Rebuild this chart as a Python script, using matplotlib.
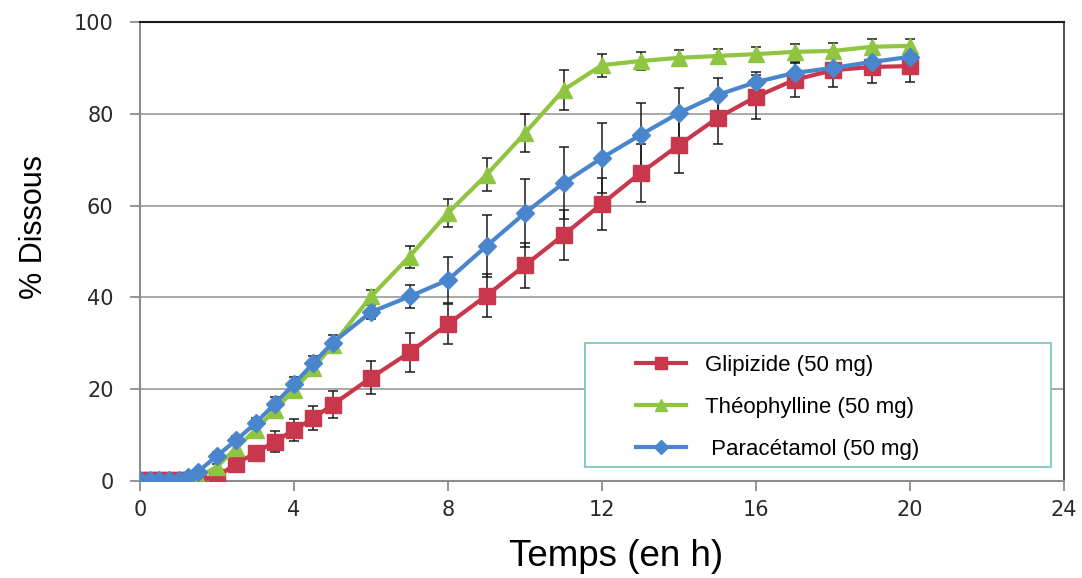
import matplotlib
matplotlib.use("Agg")
import matplotlib.pyplot as plt
from matplotlib.patches import Rectangle

time_h = [0, 0.25, 0.5, 0.75, 1, 1.25, 1.5, 2, 2.5, 3, 3.5, 4, 4.5, 5,
          6, 7, 8, 9, 10, 11, 12, 13, 14, 15, 16, 17, 18, 19, 20]

glipizide = [0.3, 0.3, 0.3, 0.3, 0.3, 0.3, 0.4, 0.9, 3.8, 6.1, 8.6, 11.1, 13.7, 16.6,
             22.5, 28.0, 34.2, 40.4, 47.0, 53.6, 60.4, 67.1, 73.2, 79.1, 83.7, 87.4, 89.5, 90.2, 90.4]
glipizide_err = [0.2, 0.2, 0.2, 0.2, 0.2, 0.2, 0.2, 0.5, 1.0, 1.5, 2.2, 2.3, 2.6, 2.9,
                 3.6, 4.2, 4.4, 4.7, 4.9, 5.4, 5.7, 6.3, 6.1, 5.7, 4.8, 3.7, 3.7, 3.5, 3.5]

theophylline = [0.0, 0.0, 0.5, 0.5, 0.3, 0.3, 0.8, 3.1, 7.2, 11.1, 15.5, 19.8, 24.6, 29.6,
                40.2, 48.9, 58.4, 66.7, 75.8, 85.2, 90.6, 91.5, 92.2, 92.6, 93.0, 93.5, 93.7, 94.6, 94.8]
theophylline_err = [0.2, 0.2, 0.3, 0.3, 0.3, 0.3, 0.3, 0.5, 1.0, 1.0, 1.0, 1.0, 1.0, 1.0,
                    1.5, 2.4, 3.1, 3.6, 4.2, 4.4, 2.5, 1.9, 1.8, 1.5, 1.5, 1.6, 1.8, 1.7, 1.6]

paracetamol = [0.3, 0.3, 0.3, 0.3, 0.3, 0.8, 2.0, 5.5, 8.9, 12.6, 16.8, 21.1, 25.7, 30.1,
               36.8, 40.2, 43.8, 51.2, 58.4, 64.9, 70.4, 75.4, 80.2, 84.1, 86.9, 88.9, 90.0, 91.3, 92.4]
paracetamol_err = [0.2, 0.2, 0.2, 0.2, 0.2, 0.3, 0.5, 0.8, 1.0, 1.2, 1.4, 1.5, 1.5, 1.6,
                   1.5, 2.5, 5.0, 6.8, 7.4, 7.9, 7.7, 7.0, 5.4, 3.7, 2.2, 2.4, 2.2, 1.5, 1.2]

labels = ["Glipizide (50 mg)", "Théophylline (50 mg)", " Paracétamol (50 mg)"]
colors = ["#C9374C", "#8FC541", "#4A86CE"]
markers = ["s", "^", "D"]
msizes = [11.5, 11, 9]

x_ticks = [0, 4, 8, 12, 16, 20, 24]
y_ticks = [0, 20, 40, 60, 80, 100]

fig = plt.figure(figsize=(10.82, 5.78), dpi=100)
ax = fig.add_axes([140/1082, 1 - 481/578, (1064-140)/1082, (481-22)/578])

series = [(glipizide, glipizide_err), (theophylline, theophylline_err), (paracetamol, paracetamol_err)]
handles = []
for (vals, errs), lab, c, m, ms in zip(series, labels, colors, markers, msizes):
    ax.errorbar(time_h, vals, yerr=errs, fmt="none", ecolor="#1a1a1a",
                elinewidth=1.1, capsize=3.5, capthick=1.1, zorder=2)
    h, = ax.plot(time_h, vals, color=c, lw=3, marker=m, ms=ms, mec=c, mfc=c,
                 zorder=3, label=lab)
    handles.append(h)

ax.set_xlim(0, 24)
ax.set_ylim(0, 100)
ax.set_xticks(x_ticks)
ax.set_yticks(y_ticks)
ax.yaxis.grid(True, color="#9a9a9a", lw=1.2, zorder=0)
ax.set_axisbelow(True)

for s in ["left", "bottom"]:
    ax.spines[s].set_color("#8c8c8c")
    ax.spines[s].set_linewidth(1.5)
ax.spines["top"].set_color("#1a1a1a")
ax.spines["top"].set_linewidth(1.5)
ax.spines["right"].set_color("#555555")
ax.spines["right"].set_linewidth(1.5)

ax.tick_params(axis="both", direction="out", length=7, width=1.3, color="#8c8c8c",
               labelsize=15, labelcolor="#2a2a2a")
ax.tick_params(axis="x", pad=7)
ax.tick_params(axis="y", pad=12)

ax.set_xlabel("Temps (en h)", fontsize=26.5, family="Liberation Sans")
ax.xaxis.set_label_coords((616 - 140) / 924, (481 - 539) / 459)
ax.set_ylabel("% Dissous", fontsize=22, family="Liberation Sans")
ax.yaxis.set_label_coords((48.5 - 140) / 924, (481 - 227.5) / 459)

# legend box
box = Rectangle((585/1082, 1 - 467/578), (1051-585)/1082, (467-343)/578,
                transform=fig.transFigure, facecolor="white", edgecolor="#7CC8BE",
                lw=1.3, zorder=4)
ax.add_patch(box)
box.set_clip_on(False)

leg = ax.legend(handles=handles, loc="upper left",
                bbox_to_anchor=(636/1082, 1 - 355/578), bbox_transform=fig.transFigure,
                frameon=False, borderpad=0, handlelength=2.25, handletextpad=0.85,
                labelspacing=0.94, prop={"family": "Liberation Sans", "size": 16},
                borderaxespad=0, markerscale=0.8)
leg.set_zorder(5)

fig.savefig("out.png", dpi=100)
